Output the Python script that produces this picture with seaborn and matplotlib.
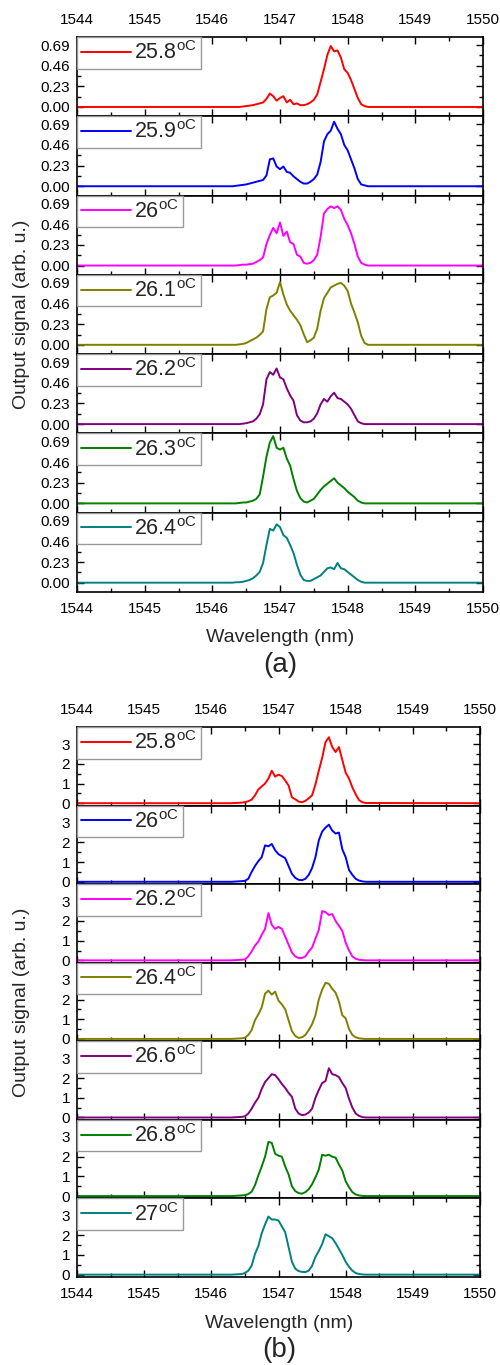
import numpy as np
import pandas as pd
import matplotlib
matplotlib.use("Agg")
import matplotlib.pyplot as plt
import seaborn as sns
from matplotlib.ticker import MultipleLocator, FixedLocator

# ---------------- data ----------------
wavelength = [1544.00,
              1546.30, 1546.35, 1546.40, 1546.45, 1546.50, 1546.55, 1546.60, 1546.65, 1546.70, 1546.75,
              1546.80, 1546.85, 1546.90, 1546.95, 1547.00, 1547.05, 1547.10, 1547.15, 1547.20, 1547.25,
              1547.30, 1547.35, 1547.40, 1547.45, 1547.50, 1547.55, 1547.60, 1547.65, 1547.70, 1547.75,
              1547.80, 1547.85, 1547.90, 1547.95, 1548.00, 1548.05, 1548.10, 1548.15, 1548.20, 1548.25,
              1548.30,
              1550.00]

# panel (a) temperatures and spectra
temps_a = ["25.8", "25.9", "26", "26.1", "26.2", "26.3", "26.4"]
a_258 = [0.0, 0.00, 0.00, 0.00, 0.005, 0.01, 0.015, 0.02, 0.03, 0.04, 0.05, 0.09, 0.15, 0.12, 0.07, 0.10, 0.12, 0.05, 0.08, 0.03, 0.04,
         0.02, 0.02, 0.03, 0.05, 0.08, 0.14, 0.28, 0.42, 0.58, 0.68, 0.62, 0.63, 0.55, 0.42, 0.38, 0.30, 0.20, 0.10, 0.03, 0.01, 0.00, 0.0]
a_259 = [0.0, 0.00, 0.005, 0.01, 0.015, 0.02, 0.03, 0.04, 0.05, 0.06, 0.07, 0.12, 0.30, 0.31, 0.22, 0.19, 0.22, 0.16, 0.15, 0.11, 0.08,
         0.05, 0.03, 0.03, 0.05, 0.08, 0.13, 0.27, 0.50, 0.58, 0.62, 0.72, 0.64, 0.58, 0.46, 0.40, 0.30, 0.20, 0.08, 0.02, 0.01, 0.00, 0.0]
a_260 = [0.0, 0.00, 0.00, 0.005, 0.01, 0.01, 0.015, 0.02, 0.04, 0.06, 0.09, 0.24, 0.34, 0.42, 0.36, 0.48, 0.33, 0.38, 0.26, 0.24, 0.12,
         0.10, 0.03, 0.02, 0.03, 0.06, 0.12, 0.32, 0.58, 0.63, 0.66, 0.64, 0.66, 0.62, 0.52, 0.45, 0.36, 0.24, 0.10, 0.03, 0.01, 0.00, 0.0]
a_261 = [0.0, 0.00, 0.00, 0.005, 0.01, 0.02, 0.04, 0.06, 0.08, 0.11, 0.15, 0.40, 0.53, 0.55, 0.58, 0.70, 0.56, 0.45, 0.38, 0.33, 0.28,
         0.22, 0.12, 0.03, 0.05, 0.08, 0.18, 0.38, 0.52, 0.58, 0.64, 0.66, 0.68, 0.69, 0.66, 0.60, 0.46, 0.36, 0.25, 0.10, 0.02, 0.00, 0.0]
a_262 = [0.0, 0.00, 0.00, 0.00, 0.005, 0.01, 0.02, 0.03, 0.06, 0.11, 0.22, 0.50, 0.58, 0.55, 0.62, 0.52, 0.50, 0.40, 0.32, 0.26, 0.10,
         0.04, 0.02, 0.02, 0.03, 0.06, 0.12, 0.22, 0.28, 0.25, 0.31, 0.35, 0.29, 0.28, 0.25, 0.22, 0.17, 0.10, 0.03, 0.01, 0.00, 0.00, 0.0]
a_263 = [0.0, 0.00, 0.00, 0.005, 0.01, 0.01, 0.02, 0.03, 0.05, 0.10, 0.30, 0.52, 0.68, 0.75, 0.62, 0.60, 0.62, 0.50, 0.42, 0.27, 0.14,
         0.06, 0.02, 0.01, 0.03, 0.05, 0.10, 0.15, 0.19, 0.22, 0.25, 0.28, 0.23, 0.20, 0.17, 0.13, 0.10, 0.07, 0.03, 0.01, 0.00, 0.00, 0.0]
a_264 = [0.0, 0.00, 0.005, 0.005, 0.01, 0.02, 0.03, 0.05, 0.08, 0.12, 0.22, 0.42, 0.60, 0.58, 0.65, 0.62, 0.53, 0.50, 0.42, 0.33, 0.20,
         0.09, 0.03, 0.02, 0.02, 0.04, 0.06, 0.08, 0.12, 0.16, 0.17, 0.15, 0.22, 0.16, 0.15, 0.12, 0.09, 0.06, 0.03, 0.01, 0.00, 0.00, 0.0]
spectra_a = [a_258, a_259, a_260, a_261, a_262, a_263, a_264]

# panel (b) temperatures and spectra
temps_b = ["25.8", "26", "26.2", "26.4", "26.6", "26.8", "27"]
b_258 = [0.0, 0.00, 0.01, 0.02, 0.03, 0.05, 0.10, 0.18, 0.40, 0.70, 0.85, 1.00, 1.25, 1.65, 1.35, 1.45, 1.38, 1.15, 0.90, 0.30, 0.20,
         0.08, 0.05, 0.12, 0.25, 0.40, 0.95, 1.65, 2.30, 3.10, 3.35, 2.85, 2.60, 2.85, 2.20, 1.55, 1.25, 0.80, 0.45, 0.15, 0.05, 0.01, 0.0]
b_260 = [0.0, 0.00, 0.01, 0.02, 0.03, 0.05, 0.15, 0.50, 0.80, 1.05, 1.25, 1.85, 1.80, 1.92, 1.60, 1.40, 1.30, 1.20, 0.80, 0.40, 0.20,
         0.10, 0.08, 0.15, 0.35, 0.70, 1.25, 2.10, 2.55, 2.75, 2.90, 2.60, 2.45, 2.50, 1.65, 1.25, 0.60, 0.35, 0.15, 0.06, 0.02, 0.00, 0.0]
b_262 = [0.0, 0.00, 0.01, 0.02, 0.03, 0.05, 0.20, 0.45, 0.75, 0.95, 1.30, 1.60, 2.40, 1.80, 1.60, 1.70, 1.60, 1.20, 0.80, 0.40, 0.20,
         0.12, 0.12, 0.20, 0.45, 0.65, 1.10, 1.55, 2.50, 2.45, 2.30, 2.35, 2.00, 1.75, 1.50, 0.90, 0.50, 0.20, 0.08, 0.03, 0.01, 0.00, 0.0]
b_264 = [0.0, 0.00, 0.01, 0.02, 0.03, 0.06, 0.20, 0.45, 0.95, 1.25, 1.60, 2.30, 2.45, 2.25, 2.40, 1.95, 1.75, 1.50, 0.95, 0.40, 0.15,
         0.05, 0.08, 0.20, 0.45, 0.75, 1.20, 2.00, 2.50, 2.85, 2.80, 2.55, 2.35, 1.90, 1.20, 1.05, 0.50, 0.20, 0.08, 0.03, 0.01, 0.00, 0.0]
b_266 = [0.0, 0.00, 0.01, 0.02, 0.03, 0.06, 0.20, 0.45, 0.75, 1.00, 1.45, 1.80, 2.00, 2.20, 2.15, 1.95, 1.70, 1.50, 1.25, 1.05, 0.45,
         0.20, 0.12, 0.15, 0.25, 0.45, 1.00, 1.40, 1.75, 1.85, 2.50, 2.20, 2.15, 2.05, 1.75, 1.50, 0.95, 0.50, 0.20, 0.08, 0.02, 0.00, 0.0]
b_268 = [0.0, 0.00, 0.01, 0.02, 0.03, 0.05, 0.10, 0.22, 0.55, 1.05, 1.50, 2.00, 2.75, 2.70, 2.15, 2.05, 2.00, 1.50, 1.10, 0.50, 0.25,
         0.15, 0.12, 0.20, 0.35, 0.60, 0.95, 1.35, 2.10, 2.05, 2.10, 2.00, 1.95, 1.60, 1.30, 0.75, 0.45, 0.20, 0.08, 0.03, 0.01, 0.00, 0.0]
b_270 = [0.0, 0.00, 0.01, 0.02, 0.03, 0.08, 0.20, 0.45, 1.05, 1.45, 2.10, 2.55, 2.95, 2.80, 2.80, 2.75, 2.45, 2.15, 1.40, 0.65, 0.30,
         0.18, 0.14, 0.13, 0.20, 0.45, 0.90, 1.20, 1.55, 2.05, 1.95, 1.85, 1.60, 1.30, 1.00, 0.65, 0.40, 0.20, 0.08, 0.03, 0.01, 0.00, 0.0]
spectra_b = [b_258, b_260, b_262, b_264, b_266, b_268, b_270]

colors = ["#FF0000", "#0000FF", "#FF00FF", "#808000", "#800080", "#008000", "#008080"]

yticks_a = [0.00, 0.23, 0.46, 0.69]
ytick_labels_a = ["0.00", "0.23", "0.46", "0.69"]
yticks_b = [0, 1, 2, 3]
ytick_labels_b = ["0", "1", "2", "3"]
xticks = [1544, 1545, 1546, 1547, 1548, 1549, 1550]

# ---------------- style ----------------
sns.set_style("ticks")
plt.rcParams["font.family"] = ["Liberation Sans", "DejaVu Sans"]
plt.rcParams["mathtext.fontset"] = "custom"
plt.rcParams["mathtext.rm"] = "Liberation Sans"
plt.rcParams["mathtext.it"] = "Liberation Sans:italic"
plt.rcParams["axes.linewidth"] = 1.2

W, H = 500, 1365
fig = plt.figure(figsize=(W / 100, H / 100), dpi=100)


def add_ax(left, top, width, height):
    return fig.add_axes([left / W, 1 - (top + height) / H, width / W, height / H])


def draw_panel(top, bottom, right, spectra, temps, yticks, ylabels, ylim, minor_y):
    n = len(spectra)
    h = (bottom - top) / n
    for i, (vals, t, c) in enumerate(zip(spectra, temps, colors)):
        ax = add_ax(77, top + i * h, right - 77, h)
        df = pd.DataFrame({"wl": wavelength, "sig": vals})
        sns.lineplot(data=df, x="wl", y="sig", color=c, lw=1.4, ax=ax,
                     estimator=None, sort=False,
                     label=f"{t}$^{{\\mathrm{{oC}}}}$")
        ax.set_xlim(1544, 1550)
        ax.set_ylim(*ylim)
        ax.xaxis.set_major_locator(FixedLocator(xticks))
        ax.xaxis.set_minor_locator(MultipleLocator(0.5))
        ax.set_yticks(yticks)
        ax.set_yticklabels(ylabels)
        ax.yaxis.set_minor_locator(MultipleLocator(minor_y))
        ax.set_xlabel("")
        ax.set_ylabel("")
        ax.tick_params(which="both", direction="in", top=True, right=True,
                       colors="black", labelsize=11, width=1.0)
        ax.tick_params(which="major", length=5)
        ax.tick_params(which="minor", length=3)
        ax.tick_params(axis="x", pad=7)
        ax.tick_params(axis="y", pad=5)
        ax.tick_params(axis="x", labelbottom=(i == n - 1), labeltop=(i == 0))
        for s in ax.spines.values():
            s.set_color("black")
            s.set_linewidth(1.2)
        leg = ax.legend(loc="upper left", fontsize=15.5, handlelength=2.3,
                        handletextpad=0.15, borderpad=0.2, borderaxespad=0,
                        frameon=True, fancybox=False, framealpha=1)
        leg.get_frame().set_edgecolor("#9a9a9a")
        leg.get_frame().set_linewidth(1.0)
        for line in leg.get_lines():
            line.set_linewidth(1.4)


draw_panel(37, 592, 483, spectra_a, temps_a, yticks_a, ytick_labels_a, (-0.104, 0.78), 0.115)
draw_panel(727, 1277, 480, spectra_b, temps_b, yticks_b, ytick_labels_b, (-0.12, 3.87), 0.5)

# axis titles and panel letters
fig.text(22 / W, 1 - 314 / H, "Output signal (arb. u.)", rotation=90, ha="center", va="center", fontsize=14)
fig.text(22 / W, 1 - 1002 / H, "Output signal (arb. u.)", rotation=90, ha="center", va="center", fontsize=14)
fig.text(280 / W, 1 - 637 / H, "Wavelength (nm)", ha="center", va="center", fontsize=14)
fig.text(279 / W, 1 - 1323 / H, "Wavelength (nm)", ha="center", va="center", fontsize=14)
fig.text(280 / W, 1 - 665 / H, "(a)", ha="center", va="center", fontsize=20)
fig.text(279 / W, 1 - 1350 / H, "(b)", ha="center", va="center", fontsize=20)

fig.savefig("out.png", dpi=100, facecolor="white")
